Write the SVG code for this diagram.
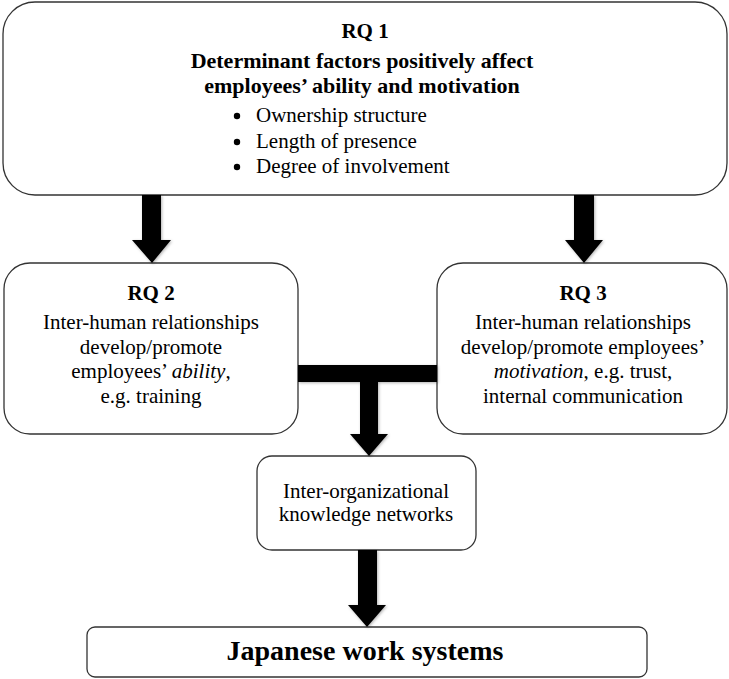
<svg xmlns="http://www.w3.org/2000/svg" width="729" height="679" viewBox="0 0 729 679">
<defs>
<filter id="sh" x="-20%" y="-20%" width="140%" height="140%">
<feDropShadow dx="1" dy="1" stdDeviation="1.5" flood-color="#000" flood-opacity="0.3"/>
</filter>
</defs>
<style>
.box{fill:#fff;stroke:#333;stroke-width:1.3}
.t{font-family:"Liberation Serif","Times New Roman",serif;font-size:21px;fill:#000;text-anchor:middle}
.b{font-weight:bold}
.l{text-anchor:start}
.arrow{fill:#000;filter:url(#sh)}
</style>
<rect width="729" height="679" fill="#fff"/>
<g id="rq1">
<rect class="box" x="3" y="2" width="724" height="193" rx="32"/>
<text class="t b" x="365" y="38">RQ 1</text>
<text class="t b" x="362" y="68" style="font-size:22px">Determinant factors positively affect</text>
<text class="t b" x="362" y="93" style="font-size:22px">employees’ ability and motivation</text>
<circle cx="237" cy="116" r="3.2"/>
<circle cx="237" cy="142" r="3.2"/>
<circle cx="237" cy="167" r="3.2"/>
<text class="t l" x="256" y="122">Ownership structure</text>
<text class="t l" x="256" y="148">Length of presence</text>
<text class="t l" x="256" y="173">Degree of involvement</text>
</g>
<g id="rq2">
<rect class="box" x="4" y="263" width="294" height="171" rx="26"/>
<text class="t b" x="151" y="300">RQ 2</text>
<text class="t" x="151" y="329">Inter-human relationships</text>
<text class="t" x="151" y="354">develop/promote</text>
<text class="t" x="151" y="378">employees’ <tspan font-style="italic">ability</tspan>,</text>
<text class="t" x="151" y="403">e.g. training</text>
</g>
<g id="rq3">
<rect class="box" x="437" y="263" width="290" height="171" rx="26"/>
<text class="t b" x="583" y="300">RQ 3</text>
<text class="t" x="583" y="329">Inter-human relationships</text>
<text class="t" x="583" y="354">develop/promote employees’</text>
<text class="t" x="583" y="378"><tspan font-style="italic">motivation</tspan>, e.g. trust,</text>
<text class="t" x="583" y="403">internal communication</text>
</g>
<g id="network">
<rect class="box" x="257" y="456" width="219" height="94" rx="15"/>
<text class="t" x="366" y="498">Inter-organizational</text>
<text class="t" x="366" y="521">knowledge networks</text>
</g>
<g id="japanese">
<rect class="box" x="87" y="627" width="560" height="50" rx="8"/>
<text class="t b" x="365" y="660" style="font-size:28px">Japanese work systems</text>
</g>
<g id="connectors">
<polygon class="arrow" points="142,195 161,195 161,240 171,240 152,263 132,240 142,240"/>
<polygon class="arrow" points="574,195 594,195 594,240 603,240 584,263 565,240 574,240"/>
<rect class="arrow" x="298" y="365" width="139" height="17"/>
<polygon class="arrow" points="360,381 378,381 378,434 388,434 369,456 350,434 360,434"/>
<polygon class="arrow" points="358,550 377,550 377,605 386,605 367,627 348,605 358,605"/>
</g>
</svg>
